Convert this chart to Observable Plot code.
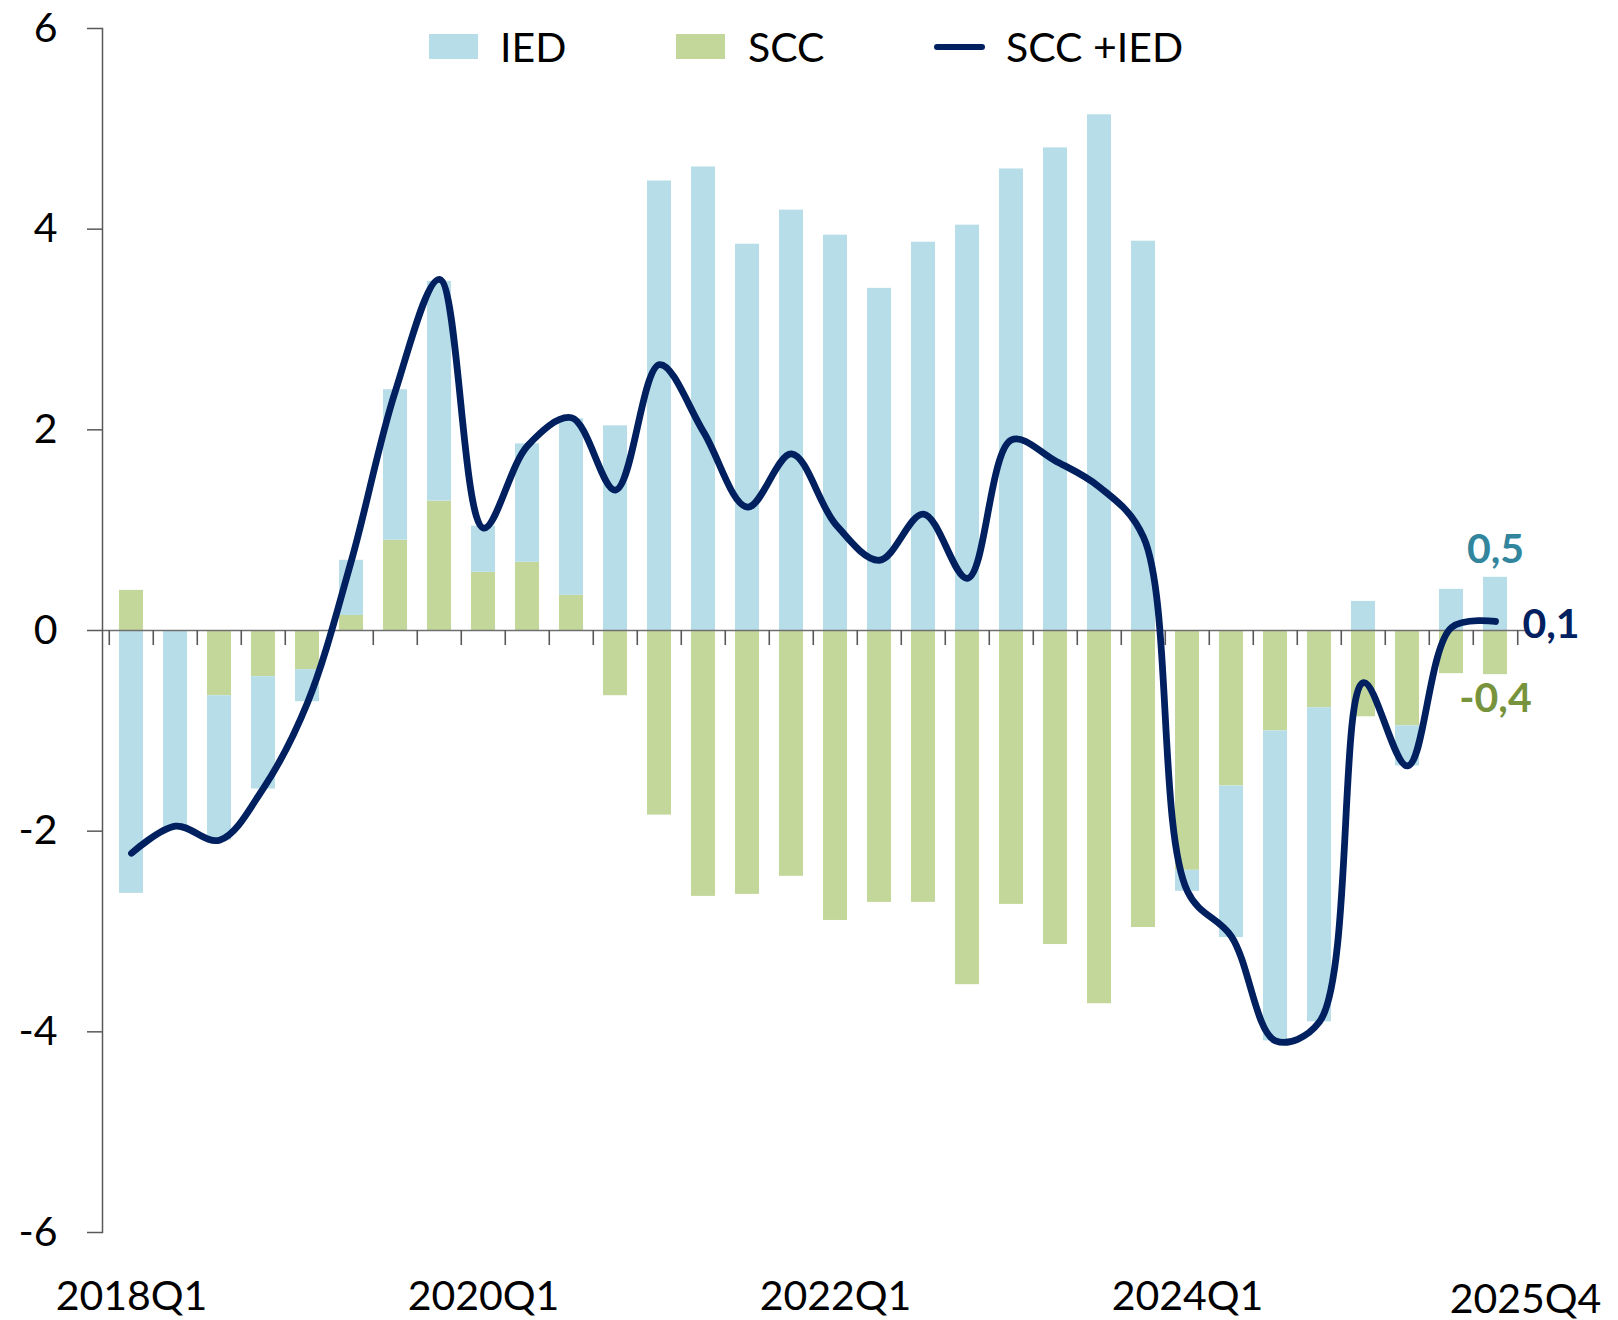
<!DOCTYPE html>
<html>
<head>
<meta charset="utf-8">
<script src="https://cdn.jsdelivr.net/npm/d3@7"></script>
<script src="https://cdn.jsdelivr.net/npm/@observablehq/plot@0.6"></script>
<style>
  html, body { margin: 0; padding: 0; background: #fff; }
  #wrap { position: relative; width: 1618px; height: 1320px; font-family: Lato, "Open Sans", sans-serif; }
  #legend { position: absolute; left: 0; top: 0; width: 1618px; height: 100px; pointer-events: none; }
  .sw { position: absolute; }
  .lt { position: absolute; font-size: 41px; line-height: 41px; color: #000; white-space: nowrap; }
</style>
</head>
<body>
<div id="wrap">
  <div id="chart"></div>
  <div id="legend"></div>
</div>
<script>
// ---- Data ----
const quarters = [
  "2018Q1","2018Q2","2018Q3","2018Q4",
  "2019Q1","2019Q2","2019Q3","2019Q4",
  "2020Q1","2020Q2","2020Q3","2020Q4",
  "2021Q1","2021Q2","2021Q3","2021Q4",
  "2022Q1","2022Q2","2022Q3","2022Q4",
  "2023Q1","2023Q2","2023Q3","2023Q4",
  "2024Q1","2024Q2","2024Q3","2024Q4",
  "2025Q1","2025Q2","2025Q3","2025Q4"
];
const scc = [
  0.40, 0.00, -0.65, -0.46,
  -0.39, 0.15, 0.90, 1.29,
  0.58, 0.68, 0.35, -0.65,
  -1.84, -2.65, -2.63, -2.45,
  -2.89, -2.71, -2.71, -3.53,
  -2.73, -3.13, -3.72, -2.96,
  -2.39, -1.55, -1.00, -0.77,
  -0.86, -0.95, -0.43, -0.44
];
const ied = [
  -2.62, -1.96, -1.44, -1.12,
  -0.32, 0.55, 1.50, 2.19,
  0.46, 1.18, 1.76, 2.04,
  4.48, 4.62, 3.85, 4.19,
  3.94, 3.41, 3.87, 4.04,
  4.60, 4.81, 5.14, 3.88,
  -0.21, -1.51, -3.09, -3.13,
  0.29, -0.40, 0.41, 0.53
];
const sccPlusIed = [
  -2.22, -1.95, -2.09, -1.57,
  -0.72, 0.70, 2.39, 3.50,
  1.02, 1.84, 2.12, 1.40,
  2.65, 1.98, 1.23, 1.76,
  1.06, 0.70, 1.16, 0.52,
  1.90, 1.69, 1.43, 0.93,
  -2.60, -3.05, -4.09, -3.90,
  -0.52, -1.35, 0.03, 0.09
];
const seriesNames = ["IED", "SCC", "SCC +IED"];
const yTicks = [-6, -4, -2, 0, 2, 4, 6];
const xTickLabels = ["2018Q1", "2020Q1", "2022Q1", "2024Q1", "2025Q4"];

// ---- Build tables ----
const barRows = [];
quarters.forEach((q, i) => {
  barRows.push({q, s: "SCC", v: scc[i]});
  barRows.push({q, s: "IED", v: ied[i]});
});
const lineRows = quarters.map((q, i) => ({q, v: sccPlusIed[i]}));
const n = quarters.length;
const last = quarters[n - 1];
const fmt = v => v.toFixed(1).replace(".", ",");

const W = 1618, H = 1320, mL = 102, mR = 93, mT = 28, mB = 88;
const step = (W - mL - mR) / n;
const colIED = "#b7dee8", colSCC = "#c4d79b", colLine = "#002060";
const axisCol = "#595959";

const chart = Plot.plot({
  width: W, height: H,
  marginLeft: mL, marginRight: mR, marginTop: mT, marginBottom: mB,
  x: {type: "band", domain: quarters, paddingInner: 0.45, paddingOuter: 0.225, axis: null},
  y: {domain: [-6, 6], axis: null},
  color: {domain: ["IED", "SCC"], range: [colIED, colSCC]},
  style: {fontFamily: "Lato, 'Open Sans', sans-serif", fontSize: "41px", background: "#fff", color: "#000", overflow: "visible"},
  marks: [
    Plot.barY(barRows, {x: "q", y: "v", fill: "s", order: ["SCC", "IED"]}),
    Plot.ruleY([0], {stroke: "#6f6f6f", strokeWidth: 1.6}),
    Plot.ruleX(quarters, {x: d => d, y1: 0, y2: -0.15, dx: -step / 2, stroke: axisCol, strokeWidth: 1.6}),
    Plot.ruleX([last], {x: d => d, y1: 0, y2: -0.15, dx: step / 2, stroke: axisCol, strokeWidth: 1.6}),
    Plot.frame({anchor: "left", stroke: axisCol, strokeWidth: 1.5}),
    Plot.axisY({ticks: yTicks, tickSize: 15, tickPadding: 30, tickFormat: d => String(d), label: null,
      stroke: axisCol, strokeWidth: 1.5, fill: "#000", fontSize: 41}),
    Plot.axisX({ticks: xTickLabels.slice(0, 4), tickSize: 0, tickPadding: 48, label: null, fill: "#000", fontSize: 41}),
    Plot.text([xTickLabels[4]], {x: d => d, frameAnchor: "bottom", lineAnchor: "top", dy: 51, dx: 30, fill: "#000", fontSize: 41}),
    Plot.line(lineRows, {x: "q", y: "v", stroke: colLine, strokeWidth: 6.8, curve: "catmull-rom",
      strokeLinecap: "round", strokeLinejoin: "round"}),
    Plot.text([{q: last, v: ied[n - 1]}], {x: "q", y: "v", text: d => fmt(d.v), dy: -27,
      fill: "#31859c", fontWeight: "bold", fontSize: 41}),
    Plot.text([{q: last, v: scc[n - 1]}], {x: "q", y: "v", text: d => fmt(d.v), dy: 24,
      fill: "#77933c", fontWeight: "bold", fontSize: 41}),
    Plot.text([{q: last, v: sccPlusIed[n - 1]}], {x: "q", y: "v", text: d => fmt(d.v), dx: 27, dy: 3,
      textAnchor: "start", fill: colLine, fontWeight: "bold", fontSize: 41})
  ]
});
document.getElementById("chart").appendChild(chart);

// ---- Legend (HTML, overlaid at the top) ----
const legend = document.getElementById("legend");
const legendItems = [
  {name: seriesNames[0], kind: "rect", color: colIED, sx: 429, tx: 500},
  {name: seriesNames[1], kind: "rect", color: colSCC, sx: 676, tx: 748},
  {name: seriesNames[2], kind: "line", color: colLine, sx: 934, tx: 1006}
];
legendItems.forEach(it => {
  const sw = document.createElement("div");
  sw.className = "sw";
  if (it.kind === "rect") {
    Object.assign(sw.style, {left: it.sx + "px", top: "34px", width: "49px", height: "25px", background: it.color});
  } else {
    Object.assign(sw.style, {left: it.sx + "px", top: "44px", width: "51px", height: "6px", background: it.color, borderRadius: "3px"});
  }
  legend.appendChild(sw);
  const t = document.createElement("div");
  t.className = "lt";
  t.textContent = it.name;
  Object.assign(t.style, {left: it.tx + "px", top: "26px"});
  legend.appendChild(t);
});
</script>
</body>
</html>
